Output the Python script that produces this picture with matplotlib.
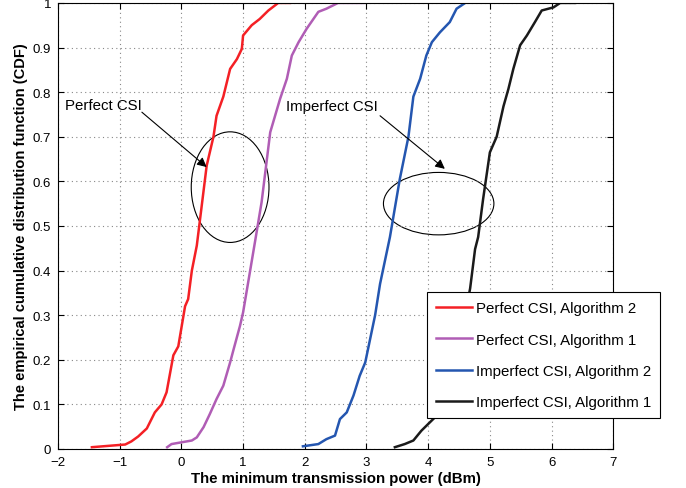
import matplotlib
matplotlib.use('Agg')
import matplotlib.pyplot as plt
from matplotlib.patches import Ellipse

plt.rcParams['font.family'] = ['Liberation Sans', 'DejaVu Sans']

# Perfect CSI, Algorithm 2
x_p2 = [-1.45, -0.91, -0.81, -0.70, -0.56, -0.43, -0.32, -0.24, -0.13, -0.05, 0.06, 0.11, 0.17,
        0.25, 0.41, 0.52, 0.57, 0.68, 0.79, 0.90, 0.98, 1.0, 1.14, 1.27, 1.41, 1.57, 1.76]
y_p2 = [0.004, 0.01, 0.017, 0.028, 0.046, 0.082, 0.10, 0.127, 0.21, 0.23, 0.32, 0.336, 0.40,
        0.456, 0.635, 0.70, 0.747, 0.79, 0.852, 0.874, 0.897, 0.927, 0.95, 0.964, 0.983, 1.0, 1.0]

# Perfect CSI, Algorithm 1
x_p1 = [-0.23, -0.16, 0.17, 0.25, 0.36, 0.46, 0.57, 0.68, 0.79, 0.84, 0.95, 1.0, 1.11, 1.20,
        1.30, 1.44, 1.60, 1.71, 1.79, 1.90, 2.03, 2.22, 2.35, 2.54, 2.95]
y_p1 = [0.004, 0.011, 0.019, 0.026, 0.049, 0.078, 0.112, 0.142, 0.194, 0.22, 0.276, 0.306, 0.396, 0.47,
        0.553, 0.71, 0.785, 0.83, 0.882, 0.912, 0.942, 0.98, 0.987, 1.0, 1.0]

# Imperfect CSI, Algorithm 2
x_i2 = [1.97, 2.22, 2.35, 2.49, 2.57, 2.68, 2.79, 2.89, 2.98, 3.06, 3.14, 3.22, 3.38,
        3.54, 3.68, 3.76, 3.87, 3.97, 4.06, 4.19, 4.35, 4.46, 4.60]
y_i2 = [0.006, 0.011, 0.022, 0.03, 0.067, 0.082, 0.12, 0.164, 0.194, 0.247, 0.30, 0.37, 0.475,
        0.605, 0.70, 0.79, 0.83, 0.882, 0.912, 0.934, 0.957, 0.987, 1.0]

# Imperfect CSI, Algorithm 1
x_i1 = [3.46, 3.62, 3.76, 3.89, 4.0, 4.14, 4.30, 4.45, 4.57, 4.68, 4.76, 4.81, 4.89, 5.0,
        5.11, 5.22, 5.30, 5.38, 5.49, 5.60, 5.73, 5.84, 6.03, 6.14, 6.38]
y_i1 = [0.004, 0.011, 0.019, 0.041, 0.056, 0.075, 0.13, 0.20, 0.28, 0.36, 0.448, 0.475, 0.56, 0.665,
        0.70, 0.768, 0.807, 0.852, 0.905, 0.927, 0.957, 0.983, 0.99, 1.0, 1.0]

labels = ['Perfect CSI, Algorithm 2', 'Perfect CSI, Algorithm 1',
          'Imperfect CSI, Algorithm 2', 'Imperfect CSI, Algorithm 1']
colors = ['#f42025', '#b05db5', '#2456b0', '#1a1a1a']

fig = plt.figure(figsize=(6.86, 4.89), dpi=100)
ax = fig.add_axes([0.0845, 0.0798, 0.8095, 0.9122])

for xs, ys, lab, c in zip([x_p2, x_p1, x_i2, x_i1], [y_p2, y_p1, y_i2, y_i1], labels, colors):
    ax.plot(xs, ys, color=c, lw=1.8, label=lab)

ax.set_xlim(-2, 7)
ax.set_ylim(0, 1)
ax.set_xticks(range(-2, 8))
ax.set_yticks([i / 10 for i in range(11)])
ax.set_yticklabels(['0'] + ['0.%d' % i for i in range(1, 10)] + ['1'])
ax.tick_params(direction='in', top=True, right=True, labelsize=9.5, length=4, pad=5)
ax.grid(True, linestyle=(0, (1, 3)), color='#888888', lw=0.8)
for s in ax.spines.values():
    s.set_linewidth(0.8)

ax.set_xlabel('The minimum transmission power (dBm)', fontsize=10.8, fontweight='bold', labelpad=2)
ax.set_ylabel('The empirical cumulative distribution function (CDF)', fontsize=10.6,
              fontweight='bold', labelpad=3)

# ellipses + annotations
ax.add_patch(Ellipse((0.79, 0.587), 1.26, 0.248, fill=False, lw=0.8, color='black'))
ax.add_patch(Ellipse((4.17, 0.55), 1.79, 0.14, fill=False, lw=0.8, color='black'))
ax.text(-1.89, 0.771, 'Perfect CSI', fontsize=10.8, va='center', ha='left')
ax.text(1.70, 0.768, 'Imperfect CSI', fontsize=10.8, va='center', ha='left')
arrow = dict(arrowstyle='-|>', color='black', lw=0.8, mutation_scale=14, shrinkA=0, shrinkB=0)
ax.annotate('', xy=(0.41, 0.632), xytext=(-0.64, 0.755), arrowprops=arrow)
ax.annotate('', xy=(4.27, 0.628), xytext=(3.22, 0.747), arrowprops=arrow)

leg = ax.legend(loc='lower left', bbox_to_anchor=(0.622, 0.143), bbox_transform=fig.transFigure,
                fontsize=10.8, fancybox=False, framealpha=1, edgecolor='black',
                borderpad=0.6, labelspacing=1.15, handlelength=2.4, handletextpad=0.3,
                borderaxespad=0)
leg.get_frame().set_linewidth(0.8)

fig.savefig('out.png', dpi=100)
